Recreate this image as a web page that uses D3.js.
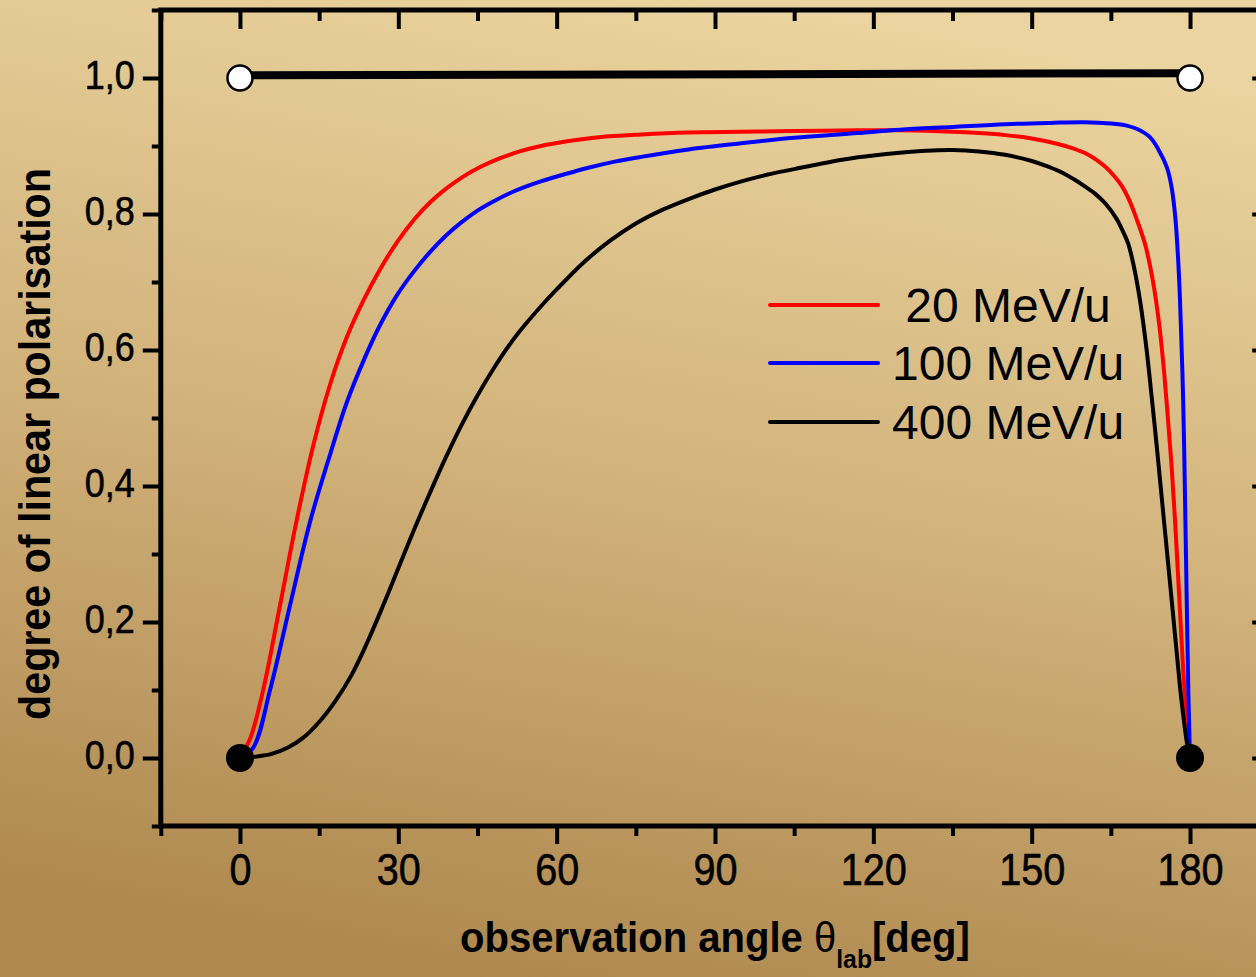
<!DOCTYPE html>
<html>
<head>
<meta charset="utf-8">
<script src="https://cdn.jsdelivr.net/npm/d3@7/dist/d3.min.js"></script>
<style>
  html, body { margin: 0; padding: 0; background: #fff; }
  svg { display: block; }
  text { font-family: "Liberation Sans", Arial, sans-serif; fill: #000; }
</style>
</head>
<body>
<svg id="chart" width="1256" height="977"></svg>
<script>
// Angle axis (degrees) and polarisation axis ticks
const xMajorTicks = [0, 30, 60, 90, 120, 150, 180];
const xMinorTicks = [-15, 15, 45, 75, 105, 135, 165, 195];
const yMajorTicks = [0, 0.2, 0.4, 0.6, 0.8, 1.0];
const yMinorTicks = [-0.1, 0.1, 0.3, 0.5, 0.7, 0.9, 1.1];

// Degree of linear polarisation vs observation angle, [angle, P]
const pol20 = [
  [0,0],[2,0.03],[4.4,0.10],[7.6,0.225],[10.7,0.348],[13.9,0.46],[17.1,0.55],
  [20.2,0.618],[23.4,0.673],[26.5,0.718],[29.7,0.758],[33,0.792],[36,0.817],
  [39,0.837],[42.3,0.855],[45.5,0.869],[48.6,0.88],[53,0.892],[57,0.90],[62,0.907],
  [68,0.913],[76,0.917],[85,0.92],[95,0.921],[105,0.922],[117,0.923],[125,0.923],
  [135,0.921],[140,0.919],[145,0.916],[150,0.911],[155,0.903],[158,0.896],
  [160,0.89],[162,0.881],[164,0.869],[165.5,0.857],[167,0.842],[168.5,0.82],
  [170,0.79],[171.5,0.755],[173,0.70],[174.2,0.635],[175,0.575],[175.7,0.51],
  [176.5,0.43],[177.3,0.33],[178,0.23],[178.7,0.13],[179.4,0.05],[180,0]
];
const pol100 = [
  [0,0],[2.5,0.015],[5.7,0.10],[9.5,0.225],[13.3,0.348],[17.1,0.447],[20.2,0.522],
  [23.4,0.584],[26.5,0.636],[29.7,0.68],[33,0.716],[36,0.744],[39,0.768],
  [42,0.788],[45,0.805],[48,0.8185],[51,0.8302],[54,0.8398],[57,0.848],[62,0.8595],
  [66,0.868],[71,0.877],[76,0.884],[85,0.895],[95,0.904],[105,0.912],[117,0.919],
  [125,0.924],[135,0.928],[145,0.932],[153.5,0.934],[160,0.935],[165,0.933],
  [168,0.930],[170,0.925],[172.4,0.913],[174,0.895],[175.6,0.869],[176.5,0.84],
  [177.2,0.796],[177.7,0.74],[178.1,0.674],[178.7,0.526],[179.1,0.36],[179.4,0.22],
  [179.7,0.09],[180,0]
];
const pol400 = [
  [0,0],[3,0.002],[6,0.006],[9,0.015],[12,0.03],[15,0.053],[18,0.083],[21,0.12],
  [24,0.168],[27,0.222],[30,0.279],[33,0.336],[36,0.39],[39,0.442],[42,0.49],
  [45,0.533],[48,0.572],[51,0.607],[54,0.637],[57,0.664],[60,0.689],[65,0.728],
  [70,0.76],[75,0.786],[80,0.806],[85,0.822],[90,0.836],[95,0.848],[100,0.858],
  [105,0.866],[110,0.874],[115,0.881],[120,0.886],[125,0.89],[130,0.893],
  [135,0.894],[140,0.892],[145,0.887],[150,0.878],[153,0.870],[156,0.860],
  [158,0.851],[160,0.841],[162,0.830],[164,0.815],[166,0.794],[167.2,0.776],
  [168.3,0.756],[169.3,0.725],[170.5,0.674],[171.7,0.605],[172.8,0.526],[173.8,0.45],
  [174.8,0.37],[175.8,0.29],[176.8,0.21],[177.6,0.145],[178.3,0.09],[179,0.045],
  [179.5,0.018],[180,0]
];

// Limiting cases: P = 0 at 0° and 180°, and the P = 1 reference line
const zeroPoints = [[0, 0], [180, 0]];
const unityPoints = [[0, 1.0], [180, 1.0]];
const unityLine = [[0, 1.004], [180, 1.007]];

const seriesNames = [" 20 MeV/u", "100 MeV/u", "400 MeV/u"];
const seriesColors = ["#ff0000", "#0000ff", "#000000"];
const seriesData = [pol20, pol100, pol400];

const svg = d3.select("#chart");
const W = 1256, H = 977;

// Background gradient
const defs = svg.append("defs");
const grad = defs.append("linearGradient").attr("id", "bg")
  .attr("x1", "0.62").attr("y1", "0").attr("x2", "0.38").attr("y2", "1");
grad.append("stop").attr("offset", "0").attr("stop-color", "#EBD49F");
grad.append("stop").attr("offset", "0.5").attr("stop-color", "#D1B27A");
grad.append("stop").attr("offset", "1").attr("stop-color", "#AE884F");
svg.append("rect").attr("width", W).attr("height", H).attr("fill", "url(#bg)");

const x = d3.scaleLinear().domain([-15, 195]).range([160.8, 1269.2]);
const y = d3.scaleLinear().domain([-0.1, 1.1]).range([826, 10]);

const fmt = v => d3.format(".1f")(v).replace(".", ",");

// Frame
svg.append("rect")
  .attr("x", x(-15)).attr("y", y(1.1))
  .attr("width", x(195) - x(-15)).attr("height", y(-0.1) - y(1.1))
  .attr("fill", "none").attr("stroke", "#000").attr("stroke-width", 5);

function styleAxis(g) {
  g.select(".domain").remove();
  g.selectAll(".tick line").attr("stroke", "#000").attr("stroke-width", 4);
}

// Bottom axis (outward ticks)
const gB = svg.append("g").attr("transform", `translate(0,${y(-0.1)})`)
  .call(d3.axisBottom(x).tickValues(xMajorTicks).tickSize(18).tickFormat(d => d3.format("d")(d)))
  .call(styleAxis);
gB.selectAll(".tick text").attr("y", 59).attr("dy", null)
  .attr("font-size", 44).attr("font-family", "Liberation Sans, Arial, sans-serif")
  .attr("stroke", "#000").attr("stroke-width", 0.6);
svg.append("g").attr("transform", `translate(0,${y(-0.1)})`)
  .call(d3.axisBottom(x).tickValues(xMinorTicks).tickSize(10).tickFormat(""))
  .call(styleAxis);

// Top axis (inward ticks)
svg.append("g").attr("transform", `translate(0,${y(1.1)})`)
  .call(d3.axisTop(x).tickValues(xMajorTicks).tickSize(-19).tickFormat(""))
  .call(styleAxis);
svg.append("g").attr("transform", `translate(0,${y(1.1)})`)
  .call(d3.axisTop(x).tickValues(xMinorTicks).tickSize(-11).tickFormat(""))
  .call(styleAxis);

// Left axis (outward ticks)
const gL = svg.append("g").attr("transform", `translate(${x(-15)},0)`)
  .call(d3.axisLeft(y).tickValues(yMajorTicks).tickSize(18).tickPadding(8).tickFormat(fmt))
  .call(styleAxis);
gL.selectAll(".tick text").attr("dy", "0.26em")
  .attr("font-size", 40).attr("font-family", "Liberation Sans, Arial, sans-serif")
  .attr("stroke", "#000").attr("stroke-width", 0.6);
svg.append("g").attr("transform", `translate(${x(-15)},0)`)
  .call(d3.axisLeft(y).tickValues(yMinorTicks).tickSize(9).tickFormat(""))
  .call(styleAxis);

// Right axis (inward ticks)
svg.append("g").attr("transform", `translate(${x(195)},0)`)
  .call(d3.axisRight(y).tickValues(yMajorTicks).tickSize(-17).tickFormat(""))
  .call(styleAxis);
svg.append("g").attr("transform", `translate(${x(195)},0)`)
  .call(d3.axisRight(y).tickValues(yMinorTicks).tickSize(-9).tickFormat(""))
  .call(styleAxis);

// Narrow the tick labels slightly
function squeeze(sel, f) {
  sel.each(function () {
    const len = this.getComputedTextLength();
    d3.select(this).attr("textLength", len * f).attr("lengthAdjust", "spacingAndGlyphs");
  });
}
squeeze(gB.selectAll(".tick text"), 0.9);
squeeze(gL.selectAll(".tick text"), 0.9);

// P = 1 reference line and open end markers
svg.append("path").datum(unityLine)
  .attr("d", d3.line().x(d => x(d[0])).y(d => y(d[1])))
  .attr("fill", "none").attr("stroke", "#000").attr("stroke-width", 8);
svg.selectAll("circle.open").data(unityPoints).join("circle")
  .attr("class", "open")
  .attr("cx", d => x(d[0])).attr("cy", d => y(d[1])).attr("r", 12.5)
  .attr("fill", "#fff").attr("stroke", "#000").attr("stroke-width", 2.5);

// Curves
const line = d3.line().x(d => x(d[0])).y(d => y(d[1])).curve(d3.curveCatmullRom.alpha(0.5));
svg.selectAll("path.curve").data(seriesData).join("path")
  .attr("class", "curve")
  .attr("d", d => line(d))
  .attr("fill", "none")
  .attr("stroke", (d, i) => seriesColors[i])
  .attr("stroke-width", 4)
  .attr("stroke-linejoin", "round");

// Filled end markers at P = 0
svg.selectAll("circle.filled").data(zeroPoints).join("circle")
  .attr("class", "filled")
  .attr("cx", d => x(d[0])).attr("cy", d => y(d[1])).attr("r", 14)
  .attr("fill", "#000");

// Legend
const legend = svg.append("g");
const legY = [305, 363, 422];
seriesNames.forEach((name, i) => {
  legend.append("line")
    .attr("x1", 770).attr("x2", 878).attr("y1", legY[i]).attr("y2", legY[i])
    .attr("stroke", seriesColors[i]).attr("stroke-width", 4).attr("stroke-linecap", "round");
  legend.append("text")
    .attr("x", 892).attr("y", legY[i] + 17)
    .attr("font-size", 48)
    .style("white-space", "pre")
    .text(name);
});

// Axis titles
function fitTitle(text, target) {
  const bb = text.node().getBBox();
  text.attr("transform", `scale(${target / bb.width},1)`);
}

const xt = svg.append("g").attr("transform", "translate(715,952)");
const xText = xt.append("text").attr("text-anchor", "middle")
  .attr("font-size", 42).attr("font-weight", "bold");
xText.append("tspan").text("observation angle ");
xText.append("tspan").attr("font-weight", "normal").text("θ");
xText.append("tspan").attr("font-size", 26).attr("dy", 16).text("lab");
xText.append("tspan").attr("dy", -16).text("[deg]");
fitTitle(xText, 510);

const yt = svg.append("g").attr("transform", "translate(50,444) rotate(-90)");
const yText = yt.append("text").attr("text-anchor", "middle")
  .attr("font-size", 44).attr("font-weight", "bold")
  .text("degree of linear polarisation");
fitTitle(yText, 552);
</script>
</body>
</html>
